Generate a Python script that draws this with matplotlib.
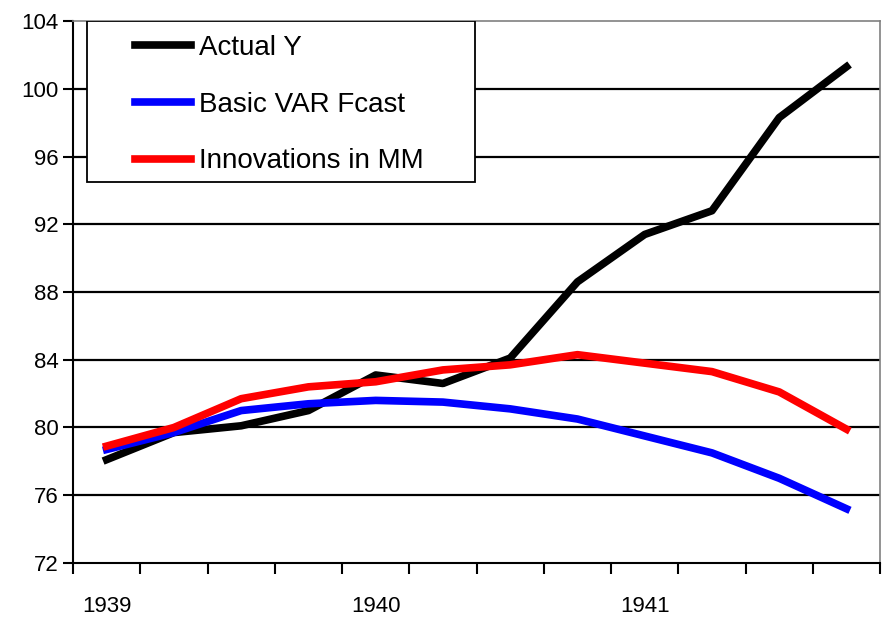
import matplotlib as mpl

mpl.use('Agg')
import matplotlib.pyplot as plt
from matplotlib.patches import Rectangle
import numpy as np

plt.rcParams['font.family'] = ['Liberation Sans', 'DejaVu Sans']

# quarterly data 1939Q1 .. 1941Q4
years = ['1939', '1940', '1941']
actual_y = [78.1, 79.7, 80.1, 81.0, 83.1, 82.6, 84.1, 88.6, 91.4, 92.8, 98.3, 101.3]
basic_var = [78.7, 79.7, 81.0, 81.4, 81.6, 81.5, 81.1, 80.5, 79.5, 78.5, 77.0, 75.2]
innov_mm = [78.9, 80.0, 81.7, 82.4, 82.7, 83.4, 83.7, 84.3, 83.8, 83.3, 82.1, 79.9]

x = np.arange(len(actual_y))

fig = plt.figure(figsize=(8.85, 6.2), dpi=100)
ax = fig.add_axes([0.0825, 0.092, 0.912, 0.874])

for yv in range(76, 104, 4):
    ax.axhline(yv, color='black', lw=1.6, zorder=1)

ax.plot(x, actual_y, color='black', lw=5.5, label='Actual Y', zorder=3)
ax.plot(x, basic_var, color='#0000ff', lw=5.5, label='Basic VAR Fcast', zorder=3)
ax.plot(x, innov_mm, color='#ff0000', lw=5.5, label='Innovations in MM', zorder=3)

ax.set_xlim(-0.5, len(x) - 0.5)
ax.set_ylim(72, 104)
ax.set_yticks(range(72, 105, 4))

ax.set_xticks(np.arange(-0.5, len(x), 1.0))
ax.set_xticklabels([])
ax.set_xticks(np.arange(0, len(x), 4), minor=True)
ax.set_xticklabels(years, minor=True)
ax.tick_params(axis='x', which='major', direction='out', length=8, width=1.5)
ax.tick_params(axis='x', which='minor', length=0, pad=24, labelsize=16)
ax.tick_params(axis='y', direction='out', length=7, width=1.5, labelsize=16)

ax.spines['left'].set_linewidth(1.5)
ax.spines['bottom'].set_linewidth(1.5)
ax.spines['top'].set_color('#808080')
ax.spines['right'].set_color('#808080')
ax.spines['top'].set_linewidth(1.2)
ax.spines['right'].set_linewidth(1.2)

# legend box drawn by hand so the padding can differ per side
box = Rectangle((0.0173, 0.703), 0.481, 0.297, transform=ax.transAxes,
                facecolor='white', edgecolor='black', lw=1.3, zorder=4)
ax.add_patch(box)
leg = ax.legend(loc='upper left', bbox_to_anchor=(0.0768, 0.974), fontsize=20,
                frameon=False, handlelength=2.0, handletextpad=0.3,
                borderpad=0, labelspacing=1.1, borderaxespad=0)
leg.set_zorder(5)

plt.savefig('out.png')
